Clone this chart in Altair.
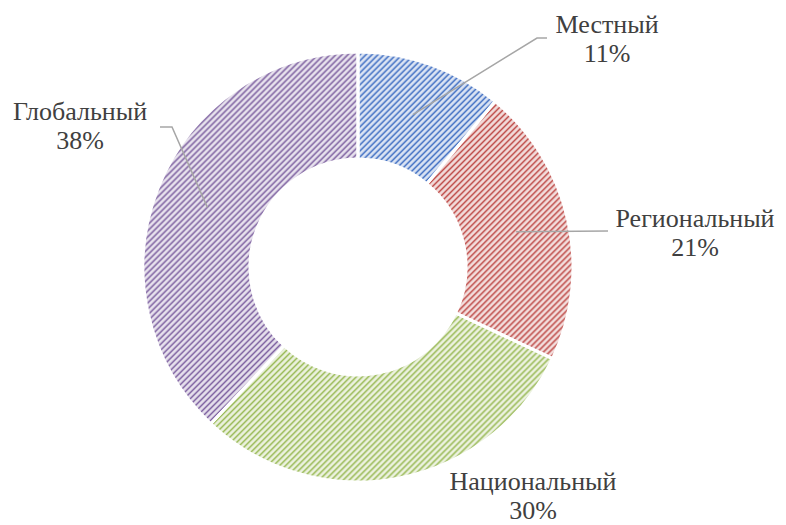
import math
import altair as alt
import pandas as pd

# ---- data ----
categories = ["Местный", "Региональный", "Национальный", "Глобальный"]
values = [11, 21, 30, 38]

# ---- style ----
stripe_colors = ["#4472C4", "#C0504D", "#9BBB59", "#8064A2"]
light_colors = ["#DAE3F3", "#F2DCDB", "#EBF1DE", "#E6E0EC"]
TEXT_COLOR = "#404040"
LINE_COLOR = "#A6A6A6"
FONT = "Liberation Serif"
FONT_SIZE = 26

W, H = 770, 517
CX, CY = 350, 259          # donut centre inside plot area
R_OUT, R_IN = 215, 108
R_ANCHOR = 162
PERIOD = 4.25              # stripe spacing (px, perpendicular)
RAMP = 0.36                # fraction of period used by each dark ramp
MAX_STRIPES = 34           # stripes per gradient piece
EPS = 0.004                # overlap of pieces (rad)

# label placement (relative to centre, y up): text centre x, first-line baseline y
label_dx = [249, 337, 175, -278]
label_dy = [234, 40, -223, 147]
# leader line elbow / end points (relative to centre, y up); None = no leader
leader_e1 = [(179, 229), (250, 36), None, (-186, 140)]
leader_e2 = [(189, 229), (250, 36), None, (-198, 140)]

rows = []
for i, c in enumerate(categories):
    e1 = leader_e1[i] or (0, 0)
    e2 = leader_e2[i] or (0, 0)
    rows.append(dict(category=c, value=values[i], order=i,
                     lx=label_dx[i], ly=label_dy[i],
                     e1x=e1[0], e1y=e1[1], e2x=e2[0], e2y=e2[1],
                     leader=leader_e1[i] is not None))
df = pd.DataFrame(rows)

xscale = alt.Scale(domain=[-CX, W - CX], nice=False, zero=False)
yscale = alt.Scale(domain=[-(H - CY), CY], nice=False, zero=False)

base = (
    alt.Chart(df)
    .transform_joinaggregate(total="sum(value)")
    .transform_window(cum="sum(value)", sort=[alt.SortField("order")], frame=[None, 0])
    .transform_calculate(t0="(datum.cum - datum.value) / datum.total * 2 * PI",
                         t1="datum.cum / datum.total * 2 * PI")
    .transform_calculate(mid="(datum.t0 + datum.t1) / 2")
)


def hex2rgb(h):
    h = h.lstrip("#")
    return [int(h[i:i + 2], 16) for i in (0, 2, 4)]


def mix(c1, c2, f):
    a, b = hex2rgb(c1), hex2rgb(c2)
    return "#" + "".join(f"{round(a[i] + (b[i] - a[i]) * f):02x}" for i in range(3))


def bbox(a0, a1):
    angs = [a0 + (a1 - a0) * i / 720 for i in range(721)]
    for q in range(-4, 9):
        a = q * math.pi / 2
        if a0 < a < a1:
            angs.append(a)
    xs, ys = [], []
    for a in angs:
        for r in (R_IN, R_OUT):
            xs.append(r * math.sin(a))
            ys.append(-r * math.cos(a))
    return min(xs), max(xs), min(ys), max(ys)


PU = PERIOD * math.sqrt(2)   # period along u = x + y


def pattern_color(u, dark, light):
    ph = (u / PU) % 1.0
    if ph < RAMP:
        return mix(dark, light, ph / RAMP)
    if ph > 1 - RAMP:
        return mix(dark, light, (1 - ph) / RAMP)
    return light


def stripe_fill(a0, a1, dark, light):
    x0, x1, y0, y1 = bbox(a0, a1)
    w, h = x1 - x0, y1 - y0
    s = (w + h) / (w * w + h * h)
    d0, d1 = x0 + y0, x1 + y1
    span = d1 - d0
    stops = [alt.GradientStop(offset=0, color=pattern_color(d0, dark, light))]
    k = math.floor(d0 / PU) - 1
    while k * PU <= d1 + PU:
        for u, col in ((k * PU, dark), ((k + RAMP) * PU, light), ((k + 1 - RAMP) * PU, light)):
            if d0 < u < d1:
                stops.append(alt.GradientStop(offset=(u - d0) / span, color=col))
        k += 1
    stops.append(alt.GradientStop(offset=1, color=pattern_color(d1, dark, light)))
    return alt.Gradient(gradient="linear", stops=stops, x1=0, y1=0, x2=s * w, y2=s * h)


def n_stripes(a0, a1):
    x0, x1, y0, y1 = bbox(a0, a1)
    return ((x1 + y1) - (x0 + y0)) / PU


total = sum(values)
layers = []
cum = 0
for i, c in enumerate(categories):
    a0 = cum / total * 2 * math.pi
    cum += values[i]
    a1 = cum / total * 2 * math.pi
    n = 1
    while True:
        pieces = []
        for j in range(n):
            p0 = a0 + (a1 - a0) * j / n - (EPS if j > 0 else 0)
            p1 = a0 + (a1 - a0) * (j + 1) / n + (EPS if j < n - 1 else 0)
            pieces.append((j, p0, p1))
        if max(n_stripes(p0, p1) for _, p0, p1 in pieces) <= MAX_STRIPES:
            break
        n += 1
    for j, p0, p1 in pieces:
        fill = stripe_fill(p0, p1, stripe_colors[i], light_colors[i])
        e0 = EPS if j > 0 else 0
        e1 = EPS if j < n - 1 else 0
        piece = (
            base.transform_filter(alt.datum.category == c)
            .transform_calculate(
                p0=f"datum.t0 + (datum.t1 - datum.t0) * {j} / {n} - {e0}",
                p1=f"datum.t0 + (datum.t1 - datum.t0) * {j + 1} / {n} + {e1}")
            .mark_arc(innerRadius=R_IN, outerRadius=R_OUT, fill=fill, strokeWidth=0)
            .encode(theta=alt.Theta("p0:Q", scale=None, stack=None),
                    theta2="p1:Q",
                    x=alt.value(CX), y=alt.value(CY))
        )
        layers.append(piece)

outline = (
    base.mark_arc(innerRadius=R_IN, outerRadius=R_OUT, fill="white", fillOpacity=0,
                  stroke="white", strokeWidth=3)
    .encode(theta=alt.Theta("t0:Q", scale=None, stack=None),
            theta2="t1:Q",
            x=alt.value(CX), y=alt.value(CY))
)

lines = (
    base.transform_filter(alt.datum.leader)
    .transform_calculate(
        xs=f"[{R_ANCHOR} * sin(datum.mid), datum.e1x, datum.e2x]",
        ys=f"[{R_ANCHOR} * cos(datum.mid), datum.e1y, datum.e2y]",
        k="[0, 1, 2]")
    .transform_flatten(["xs", "ys", "k"])
    .mark_line(color=LINE_COLOR, strokeWidth=1.5)
    .encode(x=alt.X("xs:Q", scale=xscale, axis=None),
            y=alt.Y("ys:Q", scale=yscale, axis=None),
            detail="category:N",
            order="k:Q")
)

texts = (
    base.transform_calculate(
        label="datum.category + '\\n' + round(datum.value / datum.total * 100) + '%'")
    .mark_text(font=FONT, fontSize=FONT_SIZE, color=TEXT_COLOR, align="center",
               baseline="alphabetic", lineBreak="\n", lineHeight=29)
    .encode(x=alt.X("lx:Q", scale=xscale, axis=None),
            y=alt.Y("ly:Q", scale=yscale, axis=None),
            text="label:N")
)

chart = (
    alt.layer(*layers, outline, lines, texts)
    .properties(width=W, height=H, padding=0,
                autosize=alt.AutoSizeParams(type="none"))
    .configure_view(stroke=None)
)

chart.save("out.html", embed_options={"renderer": "svg", "actions": False})
